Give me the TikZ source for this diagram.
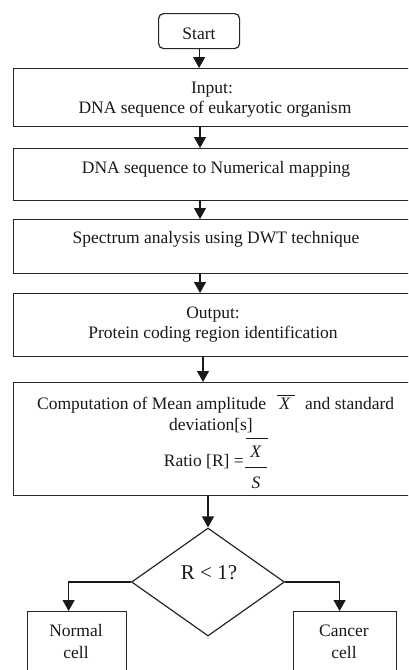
\documentclass[tikz,border=0pt]{standalone}
\usepackage{fontspec}
\setmainfont{Liberation Serif}
\usetikzlibrary{arrows.meta,shapes.geometric}
\begin{document}
\begin{tikzpicture}[x=1pt,y=-1pt,
  box/.style={draw=black!85, line width=1.2pt, fill=white, inner sep=0pt, anchor=north west},
  txt/.style={font=\fontsize{17.5}{20}\selectfont, inner sep=0pt, anchor=base, text=black!90},
  arr/.style={draw=black!90, line width=1.2pt, -{Triangle[width=12pt,length=11pt]}}]
\useasboundingbox (0,0) rectangle (408,670);
\clip (0,0) rectangle (408,670);
% boxes
\node[box, rounded corners=5pt, minimum width=81pt, minimum height=35pt] (start) at (158,13) {};
\node[box, minimum width=400pt, minimum height=58pt] (b1) at (13,68) {};
\node[box, minimum width=400pt, minimum height=52pt] (b2) at (13,148) {};
\node[box, minimum width=400pt, minimum height=54pt] (b3) at (13,219) {};
\node[box, minimum width=400pt, minimum height=63pt] (b4) at (13,293) {};
\node[box, minimum width=400pt, minimum height=113pt] (b5) at (13,382) {};
\node[draw=black!85, line width=1.2pt, diamond, minimum width=153pt, minimum height=108pt, inner sep=0pt] (d) at (208,582) {};
\node[box, minimum width=99pt, minimum height=80pt] (n) at (27,611) {};
\node[box, minimum width=103pt, minimum height=80pt] (c) at (293,611) {};
% texts
\node[txt] (tstart) at (199,39) {Start};
\node[txt] (t1a) at (212,93) {Input:};
\node[txt] (t1b) at (215,113) {DNA sequence of eukaryotic organism};
\node[txt] (t2) at (216,173) {DNA sequence to Numerical mapping};
\node[txt] (t3) at (216,243) {Spectrum analysis using DWT technique};
\node[txt] (t4a) at (213,318) {Output:};
\node[txt] (t4b) at (213,338) {Protein coding region identification};
\node[txt, anchor=base west] (t5a) at (37,409) {Computation of Mean amplitude};
\node[txt] (t5x) at (285,409) {\textit{X}};
\draw[line width=0.9pt, black!90] (277,395) -- (295,395);
\node[txt, anchor=base west] (t5b) at (305,409) {and standard};
\node[txt] (t5c) at (211,430) {deviation[s]};
\node[txt, anchor=base east] (t5d) at (244,466) {Ratio [R] =};
\node[txt] (fx) at (256,457) {\textit{X}};
\draw[line width=0.9pt, black!90] (246,438) -- (268,438);
\draw[line width=0.9pt, black!90] (245,467) -- (267,467);
\node[txt] (fs) at (256,488) {\textit{S}};
\node[txt, font=\fontsize{21}{24}\selectfont] (td) at (209,579) {R {<} 1?};
\node[txt] (tn1) at (76,636) {Normal};
\node[txt] (tn2) at (76,658) {cell};
\node[txt] (tc1) at (344,636) {Cancer};
\node[txt] (tc2) at (344,658) {cell};
% arrows
\draw[arr] (start.south) -- (start.south |- b1.north);
\draw[arr] (200,126) coordinate (a1) -- (a1 |- b2.north);
\draw[arr] (200,200) coordinate (a2) -- (a2 |- b3.north);
\draw[arr] (200,273) coordinate (a3) -- (a3 |- b4.north);
\draw[arr] (203,357) coordinate (a4) -- (a4 |- b5.north);
\draw[arr] (d.north |- b5.south) -- (d.north);
\draw[arr] (d.west) -| ([xshift=-8.5pt]n.north);
\draw[arr] (d.east) -| ([xshift=-5.5pt]c.north);
\end{tikzpicture}
\end{document}
